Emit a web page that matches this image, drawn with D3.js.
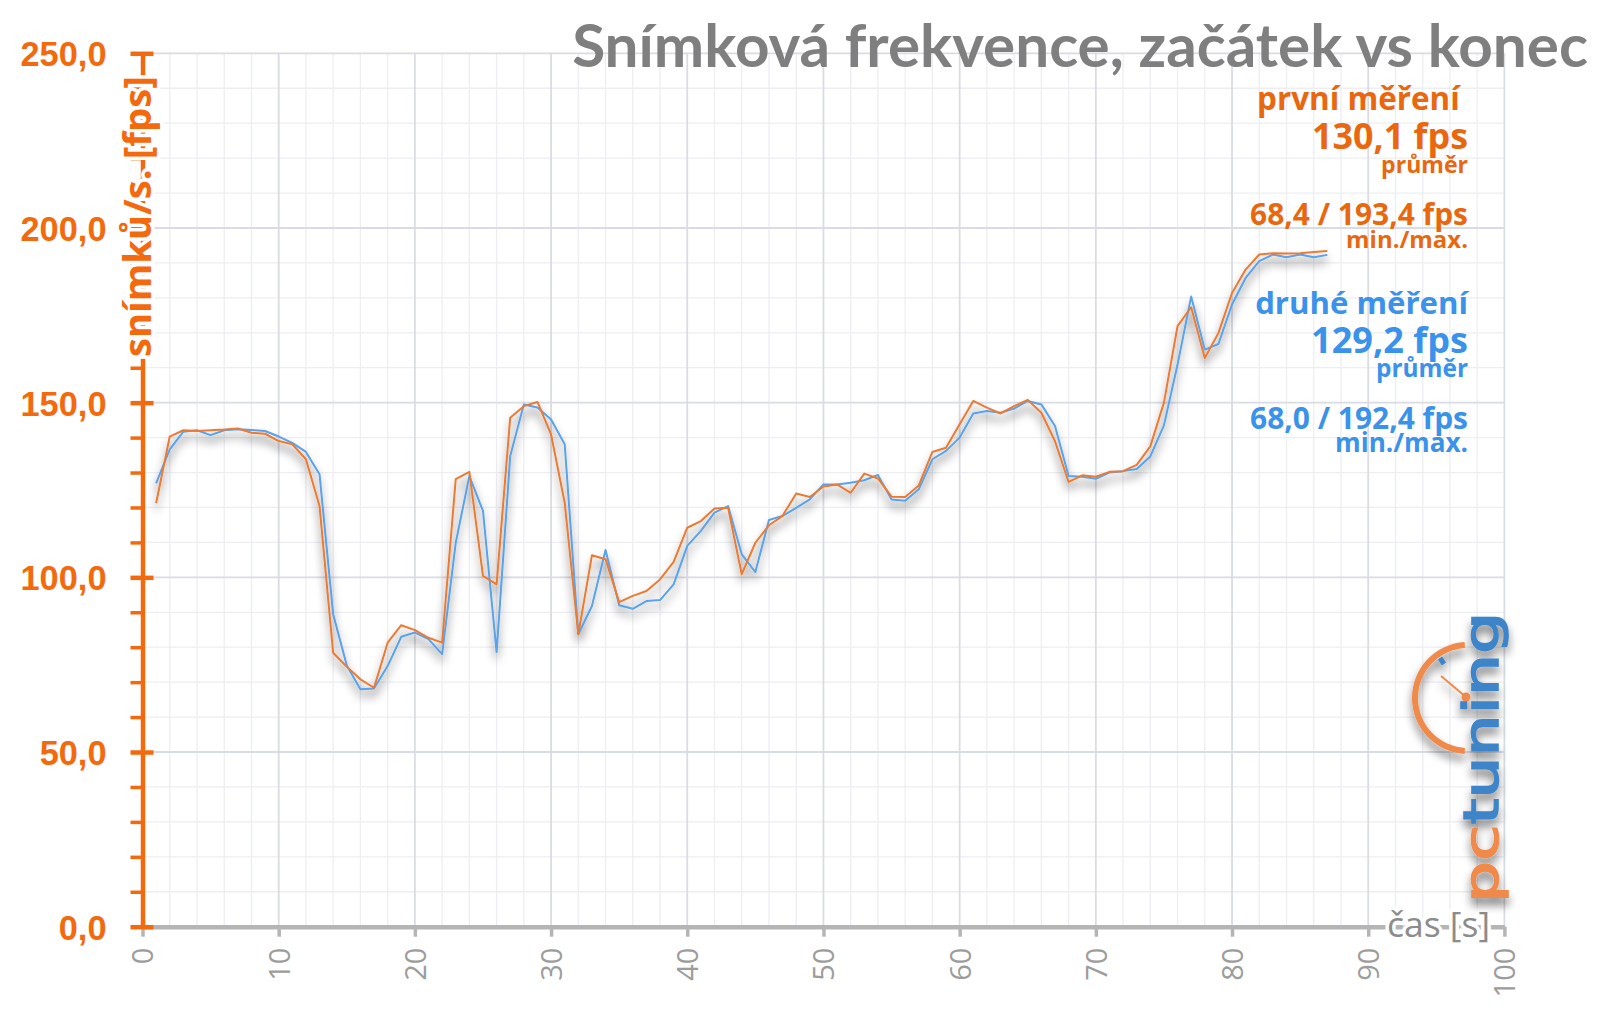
<!DOCTYPE html>
<html>
<head>
<meta charset="utf-8">
<script src="https://cdn.jsdelivr.net/npm/d3@7"></script>
<style>
  html, body { margin: 0; padding: 0; background: #ffffff; }
  svg { display: block; }
</style>
</head>
<body>
<div id="chart"></div>
<script>
// time axis: one sample per second
const seconds = d3.range(1, 88);

// snímková frekvence, první měření (oranžová)
const firstRun = [
  121.2, 140.3, 142.1, 141.9, 142.1, 142.3, 142.6, 141.4, 141.1, 139.0,
  138.1, 133.8, 120.4, 78.4, 74.4, 70.8, 68.4, 81.3, 86.3, 84.9,
  82.7, 81.3, 128.1, 130.2, 100.4, 98.0, 145.7, 149.0, 150.2, 140.9,
  121.4, 83.7, 106.3, 105.2, 92.9, 94.7, 96.1, 99.4, 104.4, 114.2,
  116.1, 119.7, 119.9, 100.9, 109.9, 114.9, 117.6, 124.0, 123.0, 126.0,
  126.6, 124.2, 129.7, 128.3, 123.1, 123.0, 126.3, 135.9, 137.1, 143.8,
  150.5, 148.6, 146.9, 149.0, 150.8, 147.1, 139.0, 127.3, 129.2, 128.8,
  130.2, 130.4, 132.2, 137.5, 150.0, 171.9, 177.3, 162.8, 169.9, 181.4,
  188.1, 192.4, 192.8, 192.7, 192.8, 193.1, 193.4
];

// druhé měření (modrá)
const secondRun = [
  126.9, 136.6, 141.7, 142.1, 140.7, 142.1, 142.4, 142.2, 141.9, 140.3,
  138.5, 135.9, 129.5, 89.4, 74.8, 68.0, 68.2, 74.6, 83.0, 84.2,
  82.3, 78.0, 109.9, 129.0, 119.0, 78.6, 134.7, 149.5, 148.6, 145.2,
  138.1, 83.7, 91.8, 107.8, 92.0, 91.0, 93.2, 93.5, 98.0, 109.0,
  113.3, 118.5, 120.4, 106.6, 101.5, 116.4, 117.6, 119.9, 122.3, 126.6,
  126.6, 127.1, 127.8, 129.3, 122.3, 121.9, 125.2, 133.8, 136.2, 140.0,
  146.9, 147.6, 147.1, 148.3, 150.5, 149.5, 143.3, 129.0, 128.8, 128.2,
  130.0, 130.4, 131.0, 134.6, 143.5, 160.9, 180.4, 165.2, 166.8, 178.1,
  185.7, 190.5, 192.4, 191.6, 192.4, 191.6, 192.3
];

const seriesNames = ['první měření', 'druhé měření'];
const averages = [130.1, 129.2];
const minMax = [[68.4, 193.4], [68.0, 192.4]];

const xTicks = d3.range(0, 101, 10);
const yTicks = d3.range(0, 251, 50);
const yMinorTicks = d3.range(0, 251, 10).filter(v => v % 50 !== 0);

const title = 'Snímková frekvence, začátek vs konec';
const yLabel = 'snímků/s. [fps]';
const xLabel = 'čas [s]';

const width = 1600;
const height = 1009;

const orange = '#f36a0e';
const textOrange = '#e9680f';
const lineOrange = '#ec7a32';
const lineBlue = '#5aa2ea';
const textBlue = '#3b92ea';
const gray = '#7f7f7f';

const cz = d3.formatLocale({ decimal: ',', thousands: ' ', grouping: [3], currency: ['', ''] });
const fmt1 = cz.format('.1f');

const x = d3.scaleLinear().domain([0, 100]).range([142.5, 1504.4]);
const y = d3.scaleLinear().domain([0, 250]).range([926.7, 53.3]);

const svg = d3.select('#chart').append('svg')
  .attr('width', width)
  .attr('height', height)
  .style('font-family', '"Open Sans", sans-serif');

const defs = svg.append('defs');
const shadow = defs.append('filter')
  .attr('id', 'shadow')
  .attr('x', '-10%').attr('y', '-10%')
  .attr('width', '120%').attr('height', '140%');
shadow.append('feGaussianBlur').attr('in', 'SourceAlpha').attr('stdDeviation', 5).attr('result', 'blur');
shadow.append('feOffset').attr('in', 'blur').attr('dy', 7).attr('result', 'off');
shadow.append('feComponentTransfer').attr('in', 'off').attr('result', 'soft')
  .append('feFuncA').attr('type', 'linear').attr('slope', 0.5);
const merge = shadow.append('feMerge');
merge.append('feMergeNode').attr('in', 'soft');
merge.append('feMergeNode').attr('in', 'SourceGraphic');

// scale font-size so the text spans a given width
function fitWidth(sel, target) {
  sel.each(function() {
    const len = this.getComputedTextLength();
    const fs = parseFloat(d3.select(this).attr('font-size'));
    d3.select(this).attr('font-size', fs * target / len);
  });
}

// grid
const grid = svg.append('g').attr('class', 'grid');
grid.selectAll('.v-minor')
  .data(d3.range(0, 101, 2).filter(v => v % 10 !== 0))
  .join('line')
    .attr('class', 'v-minor')
    .attr('x1', d => x(d)).attr('x2', d => x(d))
    .attr('y1', y(250)).attr('y2', y(0))
    .attr('stroke', '#eceef2').attr('stroke-width', 1.3);
grid.selectAll('.h-minor')
  .data(yMinorTicks)
  .join('line')
    .attr('class', 'h-minor')
    .attr('x1', x(0)).attr('x2', x(100))
    .attr('y1', d => y(d)).attr('y2', d => y(d))
    .attr('stroke', '#eceef2').attr('stroke-width', 1.3);
grid.selectAll('.v-major')
  .data(xTicks.filter(v => v > 0))
  .join('line')
    .attr('class', 'v-major')
    .attr('x1', d => x(d)).attr('x2', d => x(d))
    .attr('y1', y(250)).attr('y2', y(0))
    .attr('stroke', '#d9dce3').attr('stroke-width', 1.8);
grid.selectAll('.h-major')
  .data(yTicks.filter(v => v > 0))
  .join('line')
    .attr('class', 'h-major')
    .attr('x1', x(0)).attr('x2', x(100))
    .attr('y1', d => y(d)).attr('y2', d => y(d))
    .attr('stroke', '#d9dce3').attr('stroke-width', 1.8);

// lines
const line = d3.line()
  .x((d, i) => x(seconds[i]))
  .y(d => y(d));

const lines = svg.append('g').attr('filter', 'url(#shadow)');
lines.append('path')
  .datum(secondRun)
  .attr('d', line)
  .attr('fill', 'none')
  .attr('stroke', lineBlue)
  .attr('stroke-width', 2)
  .attr('stroke-linejoin', 'round');
lines.append('path')
  .datum(firstRun)
  .attr('d', line)
  .attr('fill', 'none')
  .attr('stroke', lineOrange)
  .attr('stroke-width', 2)
  .attr('stroke-linejoin', 'round');

// x axis
const xAxis = svg.append('g')
  .attr('transform', `translate(0, ${y(0)})`)
  .call(d3.axisBottom(x).tickValues(xTicks).tickSize(10).tickSizeOuter(0).tickPadding(0));
xAxis.select('.domain').attr('stroke', '#b5b5b5').attr('stroke-width', 4.5);
xAxis.selectAll('.tick line').attr('stroke', '#b5b5b5').attr('stroke-width', 3.5);
xAxis.selectAll('.tick text')
  .attr('transform', 'rotate(-90)')
  .attr('text-anchor', 'end')
  .attr('x', -21)
  .attr('y', 0)
  .attr('dy', '0.36em')
  .attr('fill', '#9c9c9c')
  .attr('font-size', 29)
  .attr('font-weight', 400)
  .attr('font-family', '"Open Sans", sans-serif');

// y axis
const yMinor = svg.append('g')
  .attr('transform', `translate(${x(0)}, 0)`)
  .call(d3.axisLeft(y).tickValues(yMinorTicks).tickSize(12).tickFormat(''));
yMinor.select('.domain').remove();
yMinor.selectAll('.tick line').attr('stroke', orange).attr('stroke-width', 3.5);

const yAxis = svg.append('g')
  .attr('transform', `translate(${x(0)}, 0)`)
  .call(d3.axisLeft(y).tickValues(yTicks).tickSize(12).tickSizeOuter(0).tickPadding(24).tickFormat(fmt1));
yAxis.select('.domain').attr('stroke', orange).attr('stroke-width', 4.5);
yAxis.selectAll('.tick line').attr('x1', 11).attr('stroke', orange).attr('stroke-width', 4.5);
const yTickText = yAxis.selectAll('.tick text')
  .attr('fill', orange)
  .attr('font-size', 31)
  .attr('font-weight', 700)
  .attr('dy', '0.36em');
// size all tick labels like the widest one ("250,0")
const widest = yTickText.filter(d => d === 250);
fitWidth(widest, 86);
yTickText.attr('font-size', widest.attr('font-size'));

// axis titles with white halo
svg.append('text')
  .attr('transform', 'translate(151, 357) rotate(-90)')
  .attr('font-size', 36)
  .attr('font-weight', 700)
  .attr('fill', orange)
  .attr('stroke', '#ffffff')
  .attr('stroke-width', 7)
  .attr('paint-order', 'stroke')
  .text(yLabel)
  .call(fitWidth, 281);

svg.append('text')
  .attr('x', 1490)
  .attr('y', 936.7)
  .attr('text-anchor', 'end')
  .attr('font-size', 30)
  .attr('fill', '#8c8c8c')
  .attr('stroke', '#ffffff')
  .attr('stroke-width', 7)
  .attr('paint-order', 'stroke')
  .text(xLabel)
  .call(fitWidth, 103);

// title
svg.append('text')
  .attr('x', 1588)
  .attr('y', 66.7)
  .attr('text-anchor', 'end')
  .attr('font-family', 'Lato, sans-serif')
  .attr('font-size', 60)
  .attr('font-weight', 700)
  .attr('fill', gray)
  .text(title)
  .call(fitWidth, 1016);

// legend blocks
const legendColors = [textOrange, textBlue];
const legendShift = [0, 204];
const nameWidths = [211, 213];
const avgWidths = [156, 157];
const avgLabelWidths = [87, 92];
const mmWidths = [218, 218];
const mmLabelWidths = [122, 133];

seriesNames.forEach((name, i) => {
  const leg = svg.append('g')
    .attr('transform', `translate(1468, ${legendShift[i]})`)
    .attr('text-anchor', 'end')
    .attr('font-weight', 700)
    .attr('fill', legendColors[i]);
  leg.append('text').attr('y', 110).attr('font-size', 30)
    .style('white-space', 'pre')
    .text(i === 0 ? name + ' ' : name)
    .call(fitWidth, nameWidths[i]);
  leg.append('text').attr('y', 148.5).attr('font-size', 36)
    .text(`${fmt1(averages[i])} fps`)
    .call(fitWidth, avgWidths[i]);
  leg.append('text').attr('y', 173).attr('font-size', 22)
    .text('průměr')
    .call(fitWidth, avgLabelWidths[i]);
  leg.append('text').attr('y', 225).attr('font-size', 30)
    .text(`${fmt1(minMax[i][0])} / ${fmt1(minMax[i][1])} fps`)
    .call(fitWidth, mmWidths[i]);
  leg.append('text').attr('y', 248).attr('font-size', 22)
    .text('min./max.')
    .call(fitWidth, mmLabelWidths[i]);
});

// pctuning logo
const logo = svg.append('g').attr('filter', 'url(#shadow)');
const logoOrange = '#f08a4c';
const logoBlue = '#3e84c8';
const dial = [1468, 698];
logo.append('path')
  .attr('transform', `translate(${dial[0]}, ${dial[1]})`)
  .attr('d', d3.arc().innerRadius(50).outerRadius(56).startAngle(-Math.PI + 0.06).endAngle(-0.06)())
  .attr('fill', logoOrange);
logo.append('line')
  .attr('x1', dial[0] - 2).attr('y1', dial[1] - 1)
  .attr('x2', dial[0] - 27).attr('y2', dial[1] - 22)
  .attr('stroke', logoOrange).attr('stroke-width', 2);
logo.append('circle')
  .attr('cx', dial[0] - 2).attr('cy', dial[1] - 1).attr('r', 4.5)
  .attr('fill', logoOrange);
logo.append('line')
  .attr('x1', dial[0] - 24).attr('y1', dial[1] - 34)
  .attr('x2', dial[0] - 28).attr('y2', dial[1] - 40)
  .attr('stroke', logoBlue).attr('stroke-width', 5);
const logoText = logo.append('text')
  .attr('transform', 'translate(1497.5, 903) rotate(-90)')
  .attr('font-family', '"DejaVu Sans", sans-serif')
  .attr('font-size', 48)
  .attr('stroke-width', 1.6)
  .attr('textLength', 291)
  .attr('lengthAdjust', 'spacingAndGlyphs');
logoText.append('tspan').attr('fill', logoOrange).attr('stroke', logoOrange).text('pc');
logoText.append('tspan').attr('fill', logoBlue).attr('stroke', logoBlue).text('tuning');
</script>
</body>
</html>
